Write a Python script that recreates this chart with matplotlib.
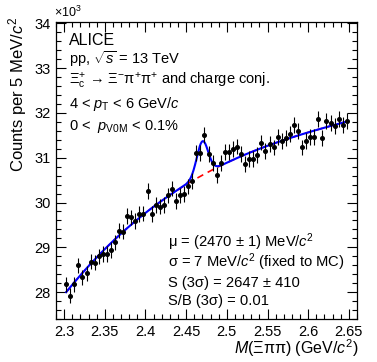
import numpy as np
import matplotlib.pyplot as plt
from matplotlib.ticker import MultipleLocator

plt.rcParams['font.family'] = ['Liberation Sans', 'DejaVu Sans']
plt.rcParams['mathtext.fontset'] = 'custom'
plt.rcParams['mathtext.rm'] = 'Liberation Sans'
plt.rcParams['mathtext.it'] = 'Liberation Sans:italic'
plt.rcParams['mathtext.bf'] = 'Liberation Sans:bold'

# invariant mass histogram, 5 MeV bins, counts in units of 10^3
first_bin = 2.3025
bin_width = 0.005
counts = [28.18, 27.92, 28.18, 28.60, 28.33, 28.42, 28.68, 28.66, 28.80, 28.85,
          28.85, 28.94, 29.11, 29.37, 29.35, 29.70, 29.67, 29.59, 29.74, 29.75,
          30.26, 29.74, 29.94, 29.91, 29.95, 30.16, 30.31, 30.04, 30.16, 30.19,
          30.36, 30.48, 31.11, 31.11, 31.51, 31.08, 30.89, 30.61, 30.88, 31.13,
          31.13, 31.19, 31.25, 31.09, 30.86, 30.97, 30.98, 31.06, 31.34, 31.15,
          31.30, 31.23, 31.46, 31.38, 31.45, 31.52, 31.73, 31.60, 31.23, 31.38,
          31.47, 31.47, 31.86, 31.45, 31.81, 31.77, 31.71, 31.87, 31.73, 31.82]

# signal shape from the plot legend
mu = 2.470
sigma = 0.007

counts = np.array(counts)
mass = first_bin + bin_width * np.arange(len(counts))
err = np.sqrt(counts * 1e3) / 1e3


def gauss(x):
    return np.exp(-0.5 * ((x - mu) / sigma) ** 2)


def design(x):
    d = x - mu
    return np.column_stack([np.ones_like(x), d, d ** 2, d ** 3, gauss(x)])


# pol3 background + gaussian with fixed mean and width, weighted least squares
w = 1 / err
coef, *_ = np.linalg.lstsq(design(mass) * w[:, None], counts * w, rcond=None)

xs = np.linspace(mass[0], mass[-1], 600)
total = design(xs) @ coef
bkg = design(xs)[:, :4] @ coef[:4]

W, H = 377, 362
fig = plt.figure(figsize=(W / 100, H / 100), dpi=100)
ax = fig.add_axes([56 / W, 1 - 319 / H, (357 - 56) / W, (319 - 22) / H])

ax.plot(xs, bkg, color='red', lw=1.2, dashes=(4, 3))
ax.plot(xs, total, color='blue', lw=1.5)
ax.errorbar(mass, counts, yerr=err, fmt='o', color='black', ms=2.6,
            elinewidth=0.8, capsize=0)

ax.set_xlim(2.29, 2.66)
ax.set_ylim(27.4, 34.03)
ax.xaxis.set_major_locator(MultipleLocator(0.05))
ax.xaxis.set_minor_locator(MultipleLocator(0.01))
ax.yaxis.set_major_locator(MultipleLocator(1))
ax.yaxis.set_minor_locator(MultipleLocator(0.2))
ax.xaxis.set_major_formatter(lambda v, p: f'{v:g}')
ax.tick_params(which='both', direction='in', top=True, right=True, labelsize=10.5, width=0.8)
ax.tick_params(which='major', length=7, pad=4)
ax.tick_params(which='minor', length=3.5)
for s in ax.spines.values():
    s.set_linewidth(0.9)


def px(x, y):
    return x / W, 1 - y / H


fig.text(*px(54, 17), r'$\times$10$^{3}$', fontsize=9, va='baseline')
fig.text(*px(18, 16), r'Counts per 5 MeV/$c^{2}$', rotation=90, ha='center', va='top', fontsize=12)
fig.text(*px(358, 354), r'$M$(Ξππ) (GeV/$c^{2}$)', ha='right', va='baseline', fontsize=11.5)

top_lines = [
    (45, 'ALICE', 11.5),
    (64, r'pp, $\sqrt{s}$ = 13 TeV', 10.5),
    (85, r'Ξ$_{\rm c}^{+}$ → Ξ$^{-}$π$^{+}$π$^{+}$ and charge conj.', 10.5),
    (108, r'4 < $p_{\rm T}$ < 6 GeV/$c$', 10.5),
    (130, r'0 <  $p_{\rm V0M}$ < 0.1%', 10.5),
]
for y, s, fs in top_lines:
    fig.text(*px(69, y), s, fontsize=fs, va='baseline')

fit_lines = [
    (247, r'μ = (2470 ± 1) MeV/$c^{2}$'),
    (267, r'σ = 7 MeV/$c^{2}$ (fixed to MC)'),
    (287, 'S (3σ) = 2647 ± 410'),
    (305, 'S/B (3σ) = 0.01'),
]
for y, s in fit_lines:
    fig.text(*px(168, y), s, fontsize=10.6, va='baseline')

fig.savefig('out.png', dpi=100)
